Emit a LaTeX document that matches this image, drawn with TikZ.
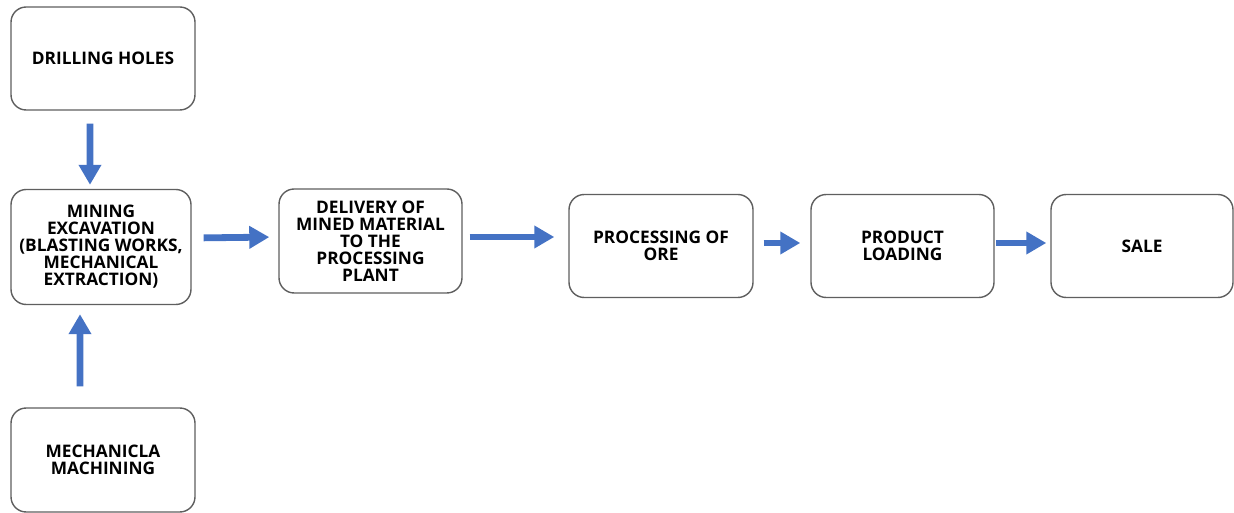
\documentclass[tikz,border=0pt]{standalone}
\usepackage{fontspec}
\setmainfont{Open Sans}
\usetikzlibrary{arrows.meta, positioning}
\definecolor{flowBlue}{RGB}{68, 114, 196}
\definecolor{boxGrey}{RGB}{95, 95, 95}

\begin{document}
\begin{tikzpicture}[
    % --- styles ---
    % 1. boxes
    stepbox/.style={rectangle, rounded corners=0.38cm, draw=boxGrey, line width=1pt, fill=white,
        align=center, inner sep=2pt, font=\fontsize{12.3}{12.1}\selectfont\bfseries},
    % 2. thick blue arrows
    flowarrow/.style={-{Triangle[length=0.5cm, width=0.54cm]}, flowBlue, line width=0.17cm}
]
% fixed frame, same proportions as the reference
\useasboundingbox (0,0) rectangle (30.85,-12.825);

% === 1: boxes ===
\node[stepbox, minimum width=4.6cm, minimum height=2.575cm] (drill) at (2.575, -1.4625) {DRILLING HOLES};
\node[stepbox, minimum width=4.5cm, minimum height=2.875cm] (mine) at (2.525, -6.175)
    {MINING\\EXCAVATION\\(BLASTING WORKS,\\MECHANICAL\\EXTRACTION)};
\node[stepbox, minimum width=4.575cm, minimum height=2.6cm] (deliver) at (9.2625, -6.025)
    {DELIVERY OF\\MINED MATERIAL\\TO THE\\PROCESSING\\PLANT};
\node[stepbox, minimum width=4.6cm, minimum height=2.575cm] (process) at (16.525, -6.15) {PROCESSING OF\\ORE};
\node[stepbox, minimum width=4.575cm, minimum height=2.575cm] (load) at (22.5625, -6.15) {PRODUCT\\LOADING};
\node[stepbox, minimum width=4.55cm, minimum height=2.575cm] (sale) at (28.55, -6.15) {SALE};
\node[stepbox, minimum width=4.6cm, minimum height=2.6cm] (machine) at (2.575, -11.5) {MECHANICLA\\MACHINING};

% === 2: arrows ===
% vertical ones into the mining box
\draw[flowarrow, shorten <=0.325cm, shorten >=0.1cm] ([xshift=-0.325cm]drill.south) -- ([xshift=-0.275cm]mine.north);
\draw[flowarrow, shorten <=0.525cm, shorten >=0.225cm] ([xshift=-0.575cm]machine.north) -- ([xshift=-0.525cm]mine.south);

% main chain, left to right
\draw[flowarrow, shorten <=0.3cm, shorten >=0.225cm] ([yshift=0.225cm]mine.east) -- ([yshift=0.1cm]deliver.west);
\draw[flowarrow, shorten <=0.175cm, shorten >=0.35cm] ([yshift=0.1cm]deliver.east) -- ([yshift=0.225cm]process.west);
\draw[flowarrow, shorten <=0.25cm, shorten >=0.25cm] ([yshift=0.075cm]process.east) -- ([yshift=0.075cm]load.west);
\draw[flowarrow, shorten <=0.03cm, shorten >=0.1cm] ([yshift=0.075cm]load.east) -- ([yshift=0.075cm]sale.west);

\end{tikzpicture}
\end{document}
